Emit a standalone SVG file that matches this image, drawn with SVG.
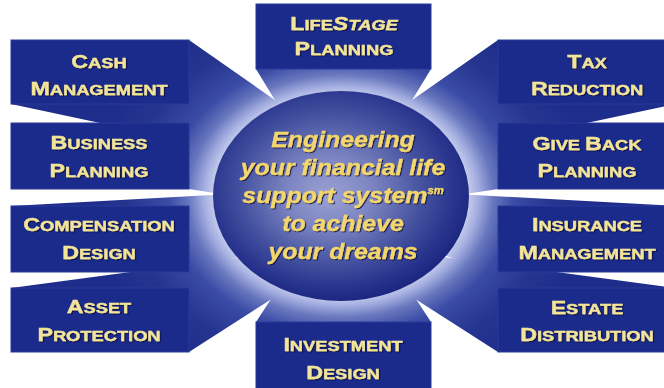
<svg xmlns="http://www.w3.org/2000/svg" width="664" height="388" viewBox="0 0 664 388">
<defs>
<radialGradient id="beam" gradientUnits="userSpaceOnUse" cx="341" cy="196" r="200" gradientTransform="translate(341 196) scale(1.25 1) translate(-341 -196)">
<stop offset="0" stop-color="#dfe3f4"/>
<stop offset="0.5" stop-color="#cdd3ee"/>
<stop offset="0.55" stop-color="#a3ade0"/>
<stop offset="0.61" stop-color="#6776bd"/>
<stop offset="0.69" stop-color="#3b4ca6"/>
<stop offset="0.85" stop-color="#25358f"/>
<stop offset="1" stop-color="#1e2d8b"/>
</radialGradient>
<radialGradient id="hub" cx="0.47" cy="0.45" r="0.55" fx="0.45" fy="0.5">
<stop offset="0" stop-color="#9aa1d2"/>
<stop offset="0.3" stop-color="#7d86c2"/>
<stop offset="0.65" stop-color="#44519f"/>
<stop offset="0.88" stop-color="#27338c"/>
<stop offset="1" stop-color="#1c2780"/>
</radialGradient>
<filter id="sh" x="-10%" y="-20%" width="120%" height="140%">
<feDropShadow dx="1" dy="1" stdDeviation="0.6" flood-color="#0b1040" flood-opacity="0.9"/>
</filter>
<style>
.face{fill:#1b2b8b;stroke:#2a3a9a;stroke-width:1}
.beam{fill:url(#beam)}
.lbl{font-family:'Liberation Sans',Arial,sans-serif;font-weight:bold;font-size:15px;text-anchor:middle;fill:#f2e49a;stroke:#f2e49a;stroke-width:0.35}
.b{font-size:19px}
.hubtxt{font-family:'Liberation Sans',Arial,sans-serif;font-weight:bold;font-style:italic;font-size:22px;text-anchor:middle;fill:#f3d76e;stroke:#f3d76e;stroke-width:0.3}
</style>
</defs>
<rect width="664" height="388" fill="#ffffff"/>
<g id="connectors">
<polygon class="beam" points="256,10 431,10 431,69 397,125 290,125 256,69"/>
<polygon class="beam" points="256,322 290,270 397,270 431,322 431,392 256,392"/>
<polygon class="beam" points="11,40 189,40 292,112 250,155 11,104"/>
<polygon class="beam" points="11,123 189,123 260,150 260,200 189,189 11,189"/>
<polygon class="beam" points="11,206 230,194 260,250 189,272 11,272"/>
<polygon class="beam" points="11,288 250,256 292,286 189,352 11,352"/>
<polygon class="beam" points="676,40 498,40 395,112 437,155 676,104"/>
<polygon class="beam" points="676,123 498,123 427,150 427,200 498,189 676,189"/>
<polygon class="beam" points="676,206 457,194 427,250 498,272 676,272"/>
<polygon class="beam" points="676,288 437,256 395,286 498,352 676,352"/>
</g>
<g id="lifestage">
<rect class="face" x="256" y="4" width="175" height="65"/>
<g filter="url(#sh)" transform="translate(344 0) scale(1.22 1)">
<text class="lbl" y="30"><tspan class="b">L</tspan>IFE<tspan class="b" font-style="italic">S</tspan><tspan font-style="italic">TAGE</tspan></text>
<text class="lbl" y="55"><tspan class="b">P</tspan>LANNING</text>
</g>
</g>
<g id="investment">
<rect class="face" x="256" y="322" width="175" height="70"/>
<g filter="url(#sh)" transform="translate(343 0) scale(1.22 1)">
<text class="lbl" y="351"><tspan class="b">I</tspan>NVESTMENT</text>
<text class="lbl" y="379"><tspan class="b">D</tspan>ESIGN</text>
</g>
</g>
<g id="cash">
<rect class="face" x="11" y="40" width="178" height="64"/>
<g filter="url(#sh)" transform="translate(99 0) scale(1.22 1)">
<text class="lbl" y="68"><tspan class="b">C</tspan>ASH</text>
<text class="lbl" y="95"><tspan class="b">M</tspan>ANAGEMENT</text>
</g>
</g>
<g id="business">
<rect class="face" x="11" y="123" width="178" height="66"/>
<g filter="url(#sh)" transform="translate(99 0) scale(1.22 1)">
<text class="lbl" y="149"><tspan class="b">B</tspan>USINESS</text>
<text class="lbl" y="177"><tspan class="b">P</tspan>LANNING</text>
</g>
</g>
<g id="compensation">
<rect class="face" x="11" y="206" width="178" height="66"/>
<g filter="url(#sh)" transform="translate(99 0) scale(1.22 1)">
<text class="lbl" y="231"><tspan class="b">C</tspan>OMPENSATION</text>
<text class="lbl" y="259"><tspan class="b">D</tspan>ESIGN</text>
</g>
</g>
<g id="asset">
<rect class="face" x="11" y="288" width="178" height="64"/>
<g filter="url(#sh)" transform="translate(99 0) scale(1.22 1)">
<text class="lbl" y="313"><tspan class="b">A</tspan>SSET</text>
<text class="lbl" y="341"><tspan class="b">P</tspan>ROTECTION</text>
</g>
</g>
<g id="tax">
<rect class="face" x="498" y="40" width="178" height="64"/>
<g filter="url(#sh)" transform="translate(587 0) scale(1.22 1)">
<text class="lbl" y="68"><tspan class="b">T</tspan>AX</text>
<text class="lbl" y="95"><tspan class="b">R</tspan>EDUCTION</text>
</g>
</g>
<g id="giveback">
<rect class="face" x="498" y="123" width="178" height="66"/>
<g filter="url(#sh)" transform="translate(587 0) scale(1.22 1)">
<text class="lbl" y="150"><tspan class="b">G</tspan>IVE <tspan class="b">B</tspan>ACK</text>
<text class="lbl" y="177"><tspan class="b">P</tspan>LANNING</text>
</g>
</g>
<g id="insurance">
<rect class="face" x="498" y="206" width="178" height="66"/>
<g filter="url(#sh)" transform="translate(587 0) scale(1.22 1)">
<text class="lbl" y="231"><tspan class="b">I</tspan>NSURANCE</text>
<text class="lbl" y="259"><tspan class="b">M</tspan>ANAGEMENT</text>
</g>
</g>
<g id="estate">
<rect class="face" x="498" y="288" width="178" height="64"/>
<g filter="url(#sh)" transform="translate(587 0) scale(1.22 1)">
<text class="lbl" y="314"><tspan class="b">E</tspan>STATE</text>
<text class="lbl" y="341"><tspan class="b">D</tspan>ISTRIBUTION</text>
</g>
</g>
<g id="hub">
<ellipse cx="341" cy="196" rx="128" ry="105" fill="url(#hub)"/>
<g filter="url(#sh)" transform="translate(343 0) scale(1.13 1)">
<text class="hubtxt" y="147">Engineering</text>
<text class="hubtxt" y="175">your financial life</text>
<text class="hubtxt" y="203">support system<tspan font-size="10" dy="-9">sm</tspan></text>
<text class="hubtxt" y="231">to achieve</text>
<text class="hubtxt" y="259">your dreams</text>
</g>
</g>
</svg>
